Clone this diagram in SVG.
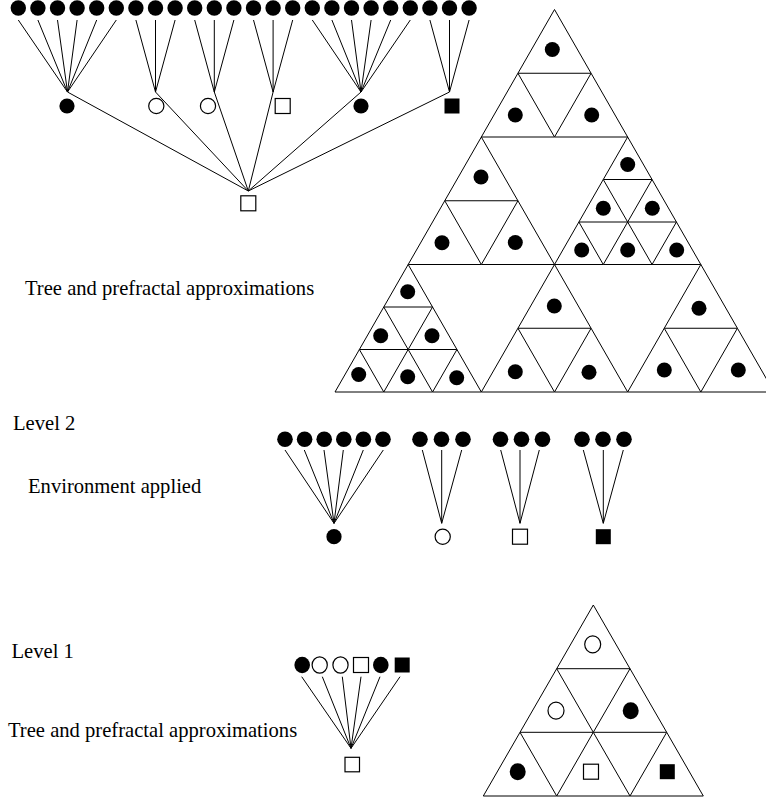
<svg xmlns="http://www.w3.org/2000/svg" width="766" height="803" viewBox="0 0 766 803">
<style>
.e{stroke:#000;stroke-width:1;fill:none}
.t{fill:#fff;stroke:#000;stroke-width:1}
.f{fill:#000}
.o{fill:#fff;stroke:#000;stroke-width:1.2}
.sq{fill:#fff;stroke:#000;stroke-width:1.2}
.sqf{fill:#000}
.lbl{font-family:"Liberation Serif","Times New Roman",serif;font-size:20.6px;fill:#000}
</style>
<rect width="766" height="803" fill="#fff"/>

<!-- ================= TOP TREE (level 2) ================= -->
<g id="top-tree-connectors" class="e">
<path d="M18.3 20L67.5 92M37.9 20L67.5 92M57.5 20L67.5 92M77.1 20L67.5 92M96.7 20L67.5 92M116.3 20L67.5 92"/>
<path d="M135.9 20L155.5 92M155.5 20L155.5 92M175.1 20L155.5 92"/>
<path d="M194.7 20L214.3 92M214.3 20L214.3 92M233.9 20L214.3 92"/>
<path d="M253.5 20L273.1 92M273.1 20L273.1 92M292.7 20L273.1 92"/>
<path d="M312.3 20L361 92M331.9 20L361 92M351.5 20L361 92M371.1 20L361 92M390.7 20L361 92M410.3 20L361 92"/>
<path d="M429.9 20L449.5 92M449.5 20L449.5 92M469.1 20L449.5 92"/>
<path d="M67.5 92L248.3 191M155.5 92L248.3 191M214.3 92L248.3 191M273.1 92L248.3 191M361 92L248.3 191M449.5 92L248.3 191"/>
</g>
<g id="top-tree-leaves" class="f">
<circle cx="18.3" cy="8" r="7.7"/><circle cx="37.9" cy="8" r="7.7"/><circle cx="57.5" cy="8" r="7.7"/><circle cx="77.1" cy="8" r="7.7"/><circle cx="96.7" cy="8" r="7.7"/><circle cx="116.3" cy="8" r="7.7"/>
<circle cx="135.9" cy="8" r="7.7"/><circle cx="155.5" cy="8" r="7.7"/><circle cx="175.1" cy="8" r="7.7"/>
<circle cx="194.7" cy="8" r="7.7"/><circle cx="214.3" cy="8" r="7.7"/><circle cx="233.9" cy="8" r="7.7"/>
<circle cx="253.5" cy="8" r="7.7"/><circle cx="273.1" cy="8" r="7.7"/><circle cx="292.7" cy="8" r="7.7"/>
<circle cx="312.3" cy="8" r="7.7"/><circle cx="331.9" cy="8" r="7.7"/><circle cx="351.5" cy="8" r="7.7"/><circle cx="371.1" cy="8" r="7.7"/><circle cx="390.7" cy="8" r="7.7"/><circle cx="410.3" cy="8" r="7.7"/>
<circle cx="429.9" cy="8" r="7.7"/><circle cx="449.5" cy="8" r="7.7"/><circle cx="469.1" cy="8" r="7.7"/>
</g>
<g id="top-n1"><circle class="f" cx="67" cy="106" r="7.6"/></g>
<g id="top-n2"><circle class="o" cx="156.3" cy="106" r="7.6"/></g>
<g id="top-n3"><circle class="o" cx="208" cy="106" r="7.6"/></g>
<g id="top-n4"><rect class="sq" x="275.2" y="98.5" width="15" height="15"/></g>
<g id="top-n5"><circle class="f" cx="361" cy="106" r="7.6"/></g>
<g id="top-n6"><rect class="sqf" x="444.5" y="98.5" width="15" height="15"/></g>
<g id="top-root"><rect class="sq" x="240.8" y="195.8" width="15" height="15"/></g>

<!-- ================= BIG PREFRACTAL TRIANGLE ================= -->
<g id="big-triangle" class="t">
<polygon points="554.5,9.5 517.92,73.25 591.08,73.25"/>
<polygon points="517.92,73.25 481.34,137 554.5,137"/>
<polygon points="591.08,73.25 554.5,137 627.66,137"/>
<polygon points="481.33,137 444.75,200.75 517.91,200.75"/>
<polygon points="444.75,200.75 408.17,264.5 481.33,264.5"/>
<polygon points="517.92,200.75 481.34,264.5 554.5,264.5"/>
<polygon points="627.67,137 603.28,179.5 652.06,179.5"/>
<polygon points="603.28,179.5 578.89,222 627.67,222"/>
<polygon points="652.06,179.5 627.67,222 676.45,222"/>
<polygon points="578.89,222 554.5,264.5 603.28,264.5"/>
<polygon points="627.67,222 603.28,264.5 652.06,264.5"/>
<polygon points="676.44,222 652.05,264.5 700.83,264.5"/>
<polygon points="408.17,264.5 383.78,307 432.56,307"/>
<polygon points="383.78,307 359.39,349.5 408.17,349.5"/>
<polygon points="432.56,307 408.17,349.5 456.95,349.5"/>
<polygon points="359.39,349.5 335,392 383.78,392"/>
<polygon points="408.17,349.5 383.78,392 432.56,392"/>
<polygon points="456.94,349.5 432.55,392 481.33,392"/>
<polygon points="554.5,264.5 517.92,328.25 591.08,328.25"/>
<polygon points="517.92,328.25 481.34,392 554.5,392"/>
<polygon points="591.08,328.25 554.5,392 627.66,392"/>
<polygon points="700.83,264.5 664.25,328.25 737.41,328.25"/>
<polygon points="664.25,328.25 627.67,392 700.83,392"/>
<polygon points="737.42,328.25 700.84,392 774,392"/>
</g>
<g id="big-triangle-dots" class="f">
<circle cx="552.3" cy="49.5" r="7.5"/><circle cx="515.3" cy="115" r="7.5"/><circle cx="591.7" cy="115" r="7.5"/>
<circle cx="481" cy="177" r="7.5"/><circle cx="442" cy="242.7" r="7.5"/><circle cx="515.3" cy="242.5" r="7.5"/>
<circle cx="627.7" cy="164.5" r="7.5"/><circle cx="603.3" cy="208.3" r="7.5"/><circle cx="652.3" cy="208.3" r="7.5"/>
<circle cx="581.7" cy="250" r="7.5"/><circle cx="627.7" cy="250" r="7.5"/><circle cx="676.7" cy="250" r="7.5"/>
<circle cx="407.7" cy="291.7" r="7.5"/><circle cx="380.7" cy="335.7" r="7.5"/><circle cx="432" cy="335.7" r="7.5"/>
<circle cx="358.7" cy="374.5" r="7.5"/><circle cx="407.7" cy="376.7" r="7.5"/><circle cx="456.7" cy="377.7" r="7.5"/>
<circle cx="554.3" cy="306" r="7.5"/><circle cx="515.3" cy="371.7" r="7.5"/><circle cx="589" cy="372.3" r="7.5"/>
<circle cx="699" cy="308.3" r="7.5"/><circle cx="664.3" cy="370" r="7.5"/><circle cx="738.3" cy="370" r="7.5"/>
</g>

<!-- ================= MIDDLE TREE (environment) ================= -->
<g id="mid-connectors" class="e">
<path d="M285 450L334 523.3M304.3 450L334 523.3M324 450L334 523.3M343.3 450L334 523.3M363.3 450L334 523.3M383.3 450L334 523.3"/>
<path d="M422.3 450L441.7 523.3M441.7 450L441.7 523.3M461.7 450L441.7 523.3"/>
<path d="M500.7 450L520 523.3M520 450L520 523.3M539.3 450L520 523.3"/>
<path d="M583.3 450L603.3 523.3M603.3 450L603.3 523.3M623.3 450L603.3 523.3"/>
</g>
<g id="mid-leaves" class="f">
<circle cx="285" cy="439.3" r="7.8"/><circle cx="304.6" cy="439.3" r="7.8"/><circle cx="324.2" cy="439.3" r="7.8"/><circle cx="343.8" cy="439.3" r="7.8"/><circle cx="363.4" cy="439.3" r="7.8"/><circle cx="383" cy="439.3" r="7.8"/>
<circle cx="420" cy="439.3" r="7.8"/><circle cx="441.5" cy="439.3" r="7.8"/><circle cx="463" cy="439.3" r="7.8"/>
<circle cx="500.5" cy="439.3" r="7.8"/><circle cx="521.5" cy="439.3" r="7.8"/><circle cx="542.5" cy="439.3" r="7.8"/>
<circle cx="582" cy="439.3" r="7.8"/><circle cx="603" cy="439.3" r="7.8"/><circle cx="624" cy="439.3" r="7.8"/>
</g>
<g id="mid-n1"><circle class="f" cx="334" cy="536.7" r="7.6"/></g>
<g id="mid-n2"><circle class="o" cx="442.7" cy="536.7" r="7.6"/></g>
<g id="mid-n3"><rect class="sq" x="512.5" y="529.2" width="15" height="15"/></g>
<g id="mid-n4"><rect class="sqf" x="595.8" y="529.2" width="15" height="15"/></g>

<!-- ================= BOTTOM TREE (level 1) ================= -->
<g id="bot-connectors" class="e">
<path d="M301.7 676.7L351 748.3M322.3 676.7L351 748.3M342.3 676.7L351 748.3M361 676.7L351 748.3M380 676.7L351 748.3M400 676.7L351 748.3"/>
</g>
<g id="bot-l1"><ellipse class="f" cx="302.2" cy="665" rx="7.8" ry="8.3"/></g>
<g id="bot-l2"><ellipse class="o" cx="319.7" cy="665" rx="7.6" ry="8.1"/></g>
<g id="bot-l3"><ellipse class="o" cx="340.5" cy="665" rx="7.6" ry="8.1"/></g>
<g id="bot-l4"><rect class="sq" x="353.5" y="657.5" width="15" height="15"/></g>
<g id="bot-l5"><ellipse class="f" cx="380.8" cy="665" rx="7.8" ry="8.3"/></g>
<g id="bot-l6"><rect class="sqf" x="394.7" y="657.5" width="15" height="15"/></g>
<g id="bot-root"><rect class="sq" x="345" y="757.3" width="14.5" height="14.5"/></g>

<!-- ================= SMALL PREFRACTAL TRIANGLE ================= -->
<g id="small-triangle" class="t">
<polygon points="593.3,605 556.7,668.7 630,668.7"/>
<polygon points="556.7,668.7 520,732.3 593.3,732.3"/>
<polygon points="630,668.7 593.3,732.3 666.7,732.3"/>
<polygon points="520,732.3 483.3,796 556.7,796"/>
<polygon points="593.3,732.3 556.7,796 630,796"/>
<polygon points="666.7,732.3 630,796 703.3,796"/>
</g>
<g id="small-triangle-symbols">
<ellipse class="o" cx="592.7" cy="644.3" rx="8" ry="8.5"/>
<ellipse class="o" cx="556" cy="710.7" rx="8" ry="8.5"/>
<ellipse class="f" cx="630.7" cy="710.7" rx="8" ry="8.5"/>
<ellipse class="f" cx="517.7" cy="771.7" rx="8" ry="8.5"/>
<rect class="sq" x="583.5" y="764.2" width="15" height="15"/>
<rect class="sqf" x="659.8" y="764.2" width="15" height="15"/>
</g>

<!-- ================= LABELS ================= -->
<g id="labels" class="lbl">
<text x="25" y="295">Tree and prefractal approximations</text>
<text x="13" y="430">Level 2</text>
<text x="28" y="493">Environment applied</text>
<text x="11.5" y="658">Level 1</text>
<text x="8" y="737">Tree and prefractal approximations</text>
</g>
</svg>
